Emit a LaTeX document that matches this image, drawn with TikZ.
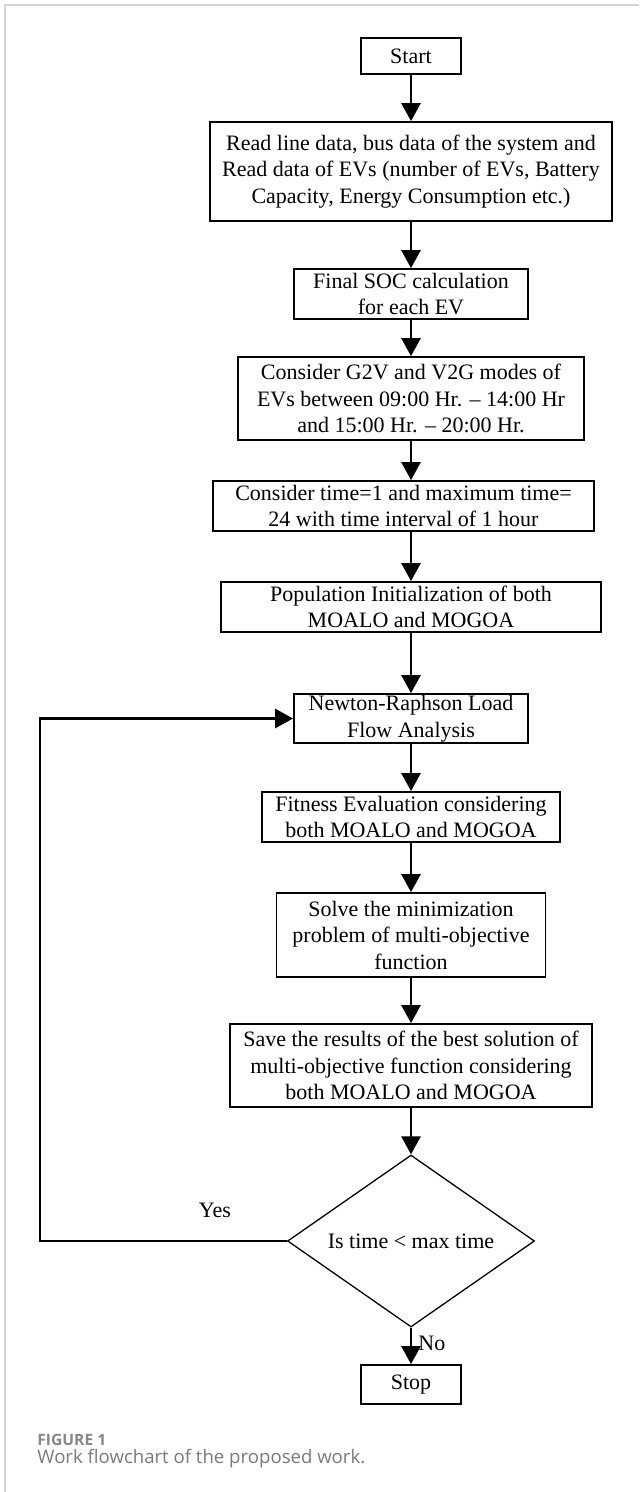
\documentclass[tikz,border=0pt]{standalone}
\usepackage{fontspec}
\setmainfont{Liberation Serif}
\newfontfamily\capfont{Open Sans}
\usetikzlibrary{arrows.meta,shapes.geometric}
\definecolor{capgray}{HTML}{7A7A7A}
\definecolor{framegray}{HTML}{D4D4D4}
\begin{document}
\begin{tikzpicture}[x=0.5pt,y=-0.5pt,
  box/.style={draw,line width=0.9pt,align=center,inner sep=0pt,font=\fontsize{11}{13.25}\selectfont},
  flow/.style={line width=1.4pt,-{Triangle[width=9.5pt,length=9pt]}},
  lbl/.style={font=\fontsize{11}{13.25}\selectfont,inner sep=0pt}
  ]
\useasboundingbox (0,0) rectangle (639,1492);
\draw[line width=0.75pt, framegray] (5,1492) -- (5,5) -- (639,5);

\node[box,minimum width=50pt,minimum height=18pt] (start) at (411,56) {Start};
\node[box,minimum width=201pt,minimum height=49.5pt] (read) at (411,171.5)
  {Read line data, bus data of the system and\\Read data of EVs (number of EVs, Battery\\Capacity, Energy Consumption etc.)};
\node[box,minimum width=117pt,minimum height=25pt] (soc) at (411,294)
  {Final SOC calculation\\for each EV};
\node[box,minimum width=173pt,minimum height=41.5pt] (mode) at (411,398.5)
  {Consider G2V and V2G modes of\\EVs between 09:00 Hr. -- 14:00 Hr\\and 15:00 Hr. -- 20:00 Hr.};
\node[box,minimum width=190.5pt,minimum height=25pt] (time) at (403.5,506)
  {Consider time=1 and maximum time=\\24 with time interval of 1 hour};
\node[box,minimum width=190pt,minimum height=25pt] (pop) at (411,607)
  {Population Initialization of both\\MOALO and MOGOA};
\node[box,minimum width=117pt,minimum height=24.5pt] (nr) at (411,718.5)
  {Newton-Raphson Load\\Flow Analysis};
\node[box,minimum width=149pt,minimum height=25pt] (fit) at (411,817)
  {Fitness Evaluation considering\\both MOALO and MOGOA};
\node[box,minimum width=134.5pt,minimum height=42pt] (solve) at (411,935)
  {Solve the minimization\\problem of multi-objective\\function};
\node[box,minimum width=181pt,minimum height=41.5pt] (save) at (411,1065.5)
  {Save the results of the best solution of\\multi-objective function considering\\both MOALO and MOGOA};
\node[box,diamond,line width=0.65pt,minimum width=123.5pt,minimum height=86pt,aspect=1.436] (dec) at (411,1241)
  {Is time \textless{} max time};
\node[box,minimum width=50pt,minimum height=19.5pt] (stop) at (411,1384.5) {Stop};

\coordinate (lb) at (40,1241);

\draw[flow] (start.south) -- (read.north);
\draw[flow] (read.south) -- (soc.north);
\draw[flow] (soc.south) -- (mode.north);
\draw[flow] (mode.south) -- (mode.south |- time.north);
\draw[flow] (mode.south |- time.south) -- (pop.north);
\draw[flow] (pop.south) -- (nr.north);
\draw[flow] (nr.south) -- (fit.north);
\draw[flow] (fit.south) -- (solve.north);
\draw[flow] (solve.south) -- (save.north);
\draw[flow] (save.south) -- (dec.north);
\draw[flow] (dec.south) -- (stop.north);
\draw[flow] (dec.west) -- (lb) |- (nr.west);

\node[lbl] (yes) at (215,1210) {Yes};
\node[lbl,anchor=west] (no) at (418,1343) {No};

\node[anchor=west,inner sep=0pt,font=\capfont\bfseries\fontsize{7.8}{9}\selectfont,text=capgray!90] (fig) at (37,1440) {FIGURE 1};
\node[anchor=west,inner sep=0pt,font=\capfont\fontsize{9.3}{11}\selectfont,text=capgray] (cap) at (37,1459) {Work flowchart of the proposed work.};
\end{tikzpicture}
\end{document}
